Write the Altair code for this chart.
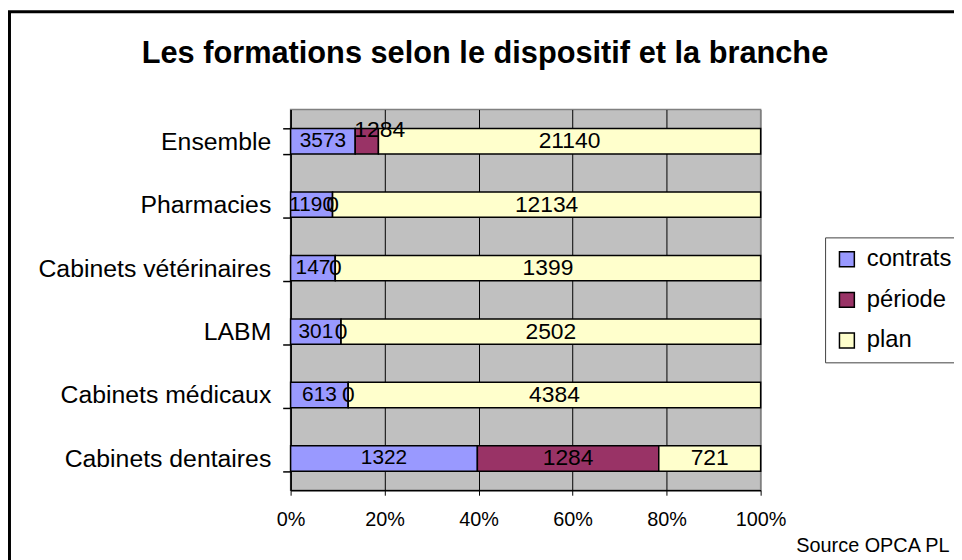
import altair as alt
import pandas as pd

categories = ["Ensemble", "Pharmacies", "Cabinets vétérinaires", "LABM",
              "Cabinets médicaux", "Cabinets dentaires"]
series = ["contrats", "période", "plan"]
contrats = [3573, 1190, 147, 301, 613, 1322]
periode = [1284, 0, 0, 0, 0, 1284]
plan = [21140, 12134, 1399, 2502, 4384, 721]
colors = ["#9999FF", "#993366", "#FFFFCC"]
tick_values = [0, 0.2, 0.4, 0.6, 0.8, 1]
title_text = "Les formations selon le dispositif et la branche"
source_text = "Source OPCA PL"

FONT = "Liberation Sans"

rows = []
for i, c in enumerate(categories):
    for j, (s, vals) in enumerate(zip(series, [contrats, periode, plan])):
        rows.append({"cat": c, "series": s, "value": vals[i], "order": j})
df = pd.DataFrame(rows)

base = alt.Chart(df).transform_stack(
    stack="value", groupby=["cat"], as_=["x0", "x1"], offset="normalize",
    sort=[alt.SortField("order", order="ascending")]
).transform_calculate(mid="(datum.x0 + datum.x1) / 2")

y_enc = alt.Y(
    "cat:N", sort=categories, title=None,
    scale=alt.Scale(paddingInner=0.6, paddingOuter=0.3),
    axis=alt.Axis(labelFontSize=25, labelFont=FONT, labelColor="black",
                  labelPadding=12, labelLimit=400, tickSize=8,
                  tickColor="black", tickWidth=1.5,
                  tickBand="extent", domainColor="black", domainWidth=1.5,
                  grid=False),
)

x_scale = alt.Scale(domain=[0, 1], nice=False)

bars = base.mark_bar(stroke="black", strokeWidth=1.5).encode(
    x=alt.X("x0:Q", scale=x_scale,
            axis=alt.Axis(format="%", values=tick_values, labelFontSize=20,
                          labelFont=FONT, labelColor="black", tickSize=5,
                          tickColor="black", labelPadding=15,
                          labelFlush=False,
                          domainColor="black", domainWidth=1.5,
                          grid=True,
                          gridColor=alt.condition("datum.value == 1",
                                                  alt.value("#808080"),
                                                  alt.value("black")),
                          gridWidth=1,
                          title=source_text, titleFont=FONT,
                          titleFontSize=20, titleFontWeight="normal",
                          titleColor="black", titleX=664, titleY=56,
                          titleAlign="right", titleBaseline="middle")),
    x2="x1:Q",
    y=y_enc,
    color=alt.Color("series:N", scale=alt.Scale(domain=series, range=colors),
                    legend=alt.Legend(title=None)),
)

is_raised = "datum.cat == 'Ensemble' && datum.series == 'période'"

labels = base.transform_filter("!(" + is_raised + ")").mark_text(
    font=FONT, color="black", baseline="middle", align="center").encode(
    x=alt.X("mid:Q", scale=x_scale),
    y=y_enc,
    text=alt.Text("value:Q", format="d"),
    size=alt.condition("datum.series == 'contrats'", alt.value(21), alt.value(23)),
)

raised = base.transform_filter(is_raised).mark_text(
    font=FONT, color="black", baseline="middle", align="center", dy=-11,
    dx=13, fontSize=23).encode(
    x=alt.X("mid:Q", scale=x_scale),
    y=y_enc,
    text=alt.Text("value:Q", format="d"),
)

one = pd.DataFrame({"k": [0]})
frame = alt.Chart(one).mark_rect(fill="transparent", stroke="black",
                                 strokeWidth=3, clip=False).encode(
    x=alt.value(-283.5), x2=alt.value(720),
    y=alt.value(-98.5), y2=alt.value(520),
)

title = alt.Chart(one).mark_text(font=FONT, fontSize=31, fontWeight="bold",
                                 color="black", align="center",
                                 baseline="middle").encode(
    x=alt.value(196), y=alt.value(-56), text=alt.value(title_text),
)

chart = alt.layer(bars, labels, raised, frame, title).properties(
    width=474, height=384,
    autosize=alt.AutoSizeParams(type="none"),
    padding={"left": 285, "top": 100, "right": 195, "bottom": 68},
    background="white",
).configure_view(
    fill="#C0C0C0", stroke="#808080", strokeWidth=1.5,
).configure_legend(
    orient="none", legendX=539, legendY=129, fillColor="white",
    strokeColor="#404040", padding=10, symbolType="square", symbolSize=225,
    symbolStrokeColor="black", symbolStrokeWidth=1.5, labelFontSize=24,
    labelFont=FONT, labelColor="black", rowPadding=17, labelOffset=8,
)

chart.save("out.html", embed_options={"renderer": "svg", "actions": False})
